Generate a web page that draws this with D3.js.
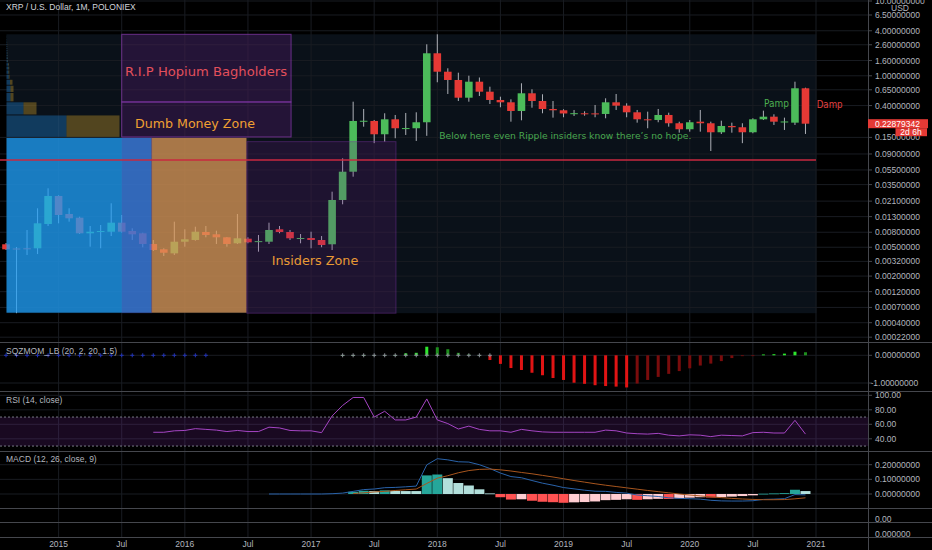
<!DOCTYPE html>
<html>
<head>
<meta charset="utf-8">
<title>XRP / U.S. Dollar, 1M, POLONIEX</title>
<script src="https://cdnjs.cloudflare.com/ajax/libs/d3/7.8.5/d3.min.js"></script>
<style>
  html, body { margin: 0; padding: 0; background: #000; overflow: hidden; }
  svg { display: block; font-family: "Liberation Sans", Arial, sans-serif; }
</style>
</head>
<body>
<div id="mainDiv"></div>
<script>
'use strict';

// monthly bars, first bar is Aug 2014; months are counted from Jan 2015 (= 0)
var firstMonth = -5;

var openPrices = [
  0.00549, 0.00481, 0.00484, 0.00484, 0.01034,
  0.02463, 0.01410, 0.01258, 0.00774, 0.00813, 0.00813, 0.01077, 0.00831, 0.00774, 0.00554, 0.00469, 0.00413,
  0.00595, 0.00628, 0.00806, 0.00750, 0.00683, 0.00566, 0.00654, 0.00590, 0.00595, 0.00877, 0.00806, 0.00662,
  0.00668, 0.00628, 0.00549, 0.02176, 0.0521, 0.2451, 0.2488, 0.1652, 0.2620, 0.1988, 0.1988, 0.2391,
  2.000, 1.134, 0.879, 0.5095, 0.834, 0.613, 0.4749, 0.4421, 0.3385, 0.5834, 0.4604, 0.3600,
  0.3459, 0.3134, 0.3153, 0.3144, 0.3086, 0.4421, 0.3984, 0.3251, 0.2620, 0.2566, 0.2993, 0.2319,
  0.1928, 0.2434, 0.2319, 0.1757, 0.2133, 0.2050, 0.1757, 0.2620, 0.2840, 0.2420, 0.2362, 0.681
];
var highPrices = [
  0.00571, 0.00504, 0.00858, 0.01683, 0.03124,
  0.0252, 0.01683, 0.01297, 0.00971, 0.01002, 0.01965, 0.01367, 0.00904, 0.00789, 0.00628, 0.00484, 0.01111,
  0.00877, 0.00950, 0.00971, 0.00839, 0.0069, 0.01410, 0.00683, 0.00734, 0.01077, 0.00971, 0.00858, 0.00757,
  0.00813, 0.00711, 0.02813, 0.07877, 0.4505, 0.3600, 0.2566, 0.3153, 0.2993, 0.3183, 0.3251, 2.637,
  3.588, 1.260, 1.100, 1.003, 0.949, 0.715, 0.5255, 0.4848, 0.794, 0.660, 0.566, 0.4604,
  0.3567, 0.3491, 0.3353, 0.4071, 0.5001, 0.571, 0.4286, 0.3491, 0.3314, 0.3600, 0.3212, 0.2434,
  0.2566, 0.3491, 0.2434, 0.2509, 0.2362, 0.2319, 0.2702, 0.3417, 0.3057, 0.2756, 0.834, 0.693
];
var lowPrices = [
  0.00459, 0.00057, 0.00392, 0.00404, 0.00971,
  0.01056, 0.01111, 0.00757, 0.00509, 0.00484, 0.00711, 0.00789, 0.00628, 0.00499, 0.00445, 0.00380, 0.00392,
  0.00509, 0.00614, 0.00683, 0.00554, 0.00509, 0.00554, 0.00566, 0.00435, 0.00554, 0.00774, 0.00628, 0.00566,
  0.00484, 0.00500, 0.00459, 0.01904, 0.0447, 0.2088, 0.1256, 0.1317, 0.1461, 0.1617, 0.1345, 0.1575,
  0.819, 0.571, 0.4604, 0.4505, 0.537, 0.4198, 0.3793, 0.2434, 0.2540, 0.3744, 0.3153, 0.2756,
  0.2789, 0.2902, 0.2927, 0.2789, 0.2702, 0.3491, 0.2789, 0.2362, 0.1988, 0.2391, 0.2088, 0.1735,
  0.1790, 0.1790, 0.0986, 0.1668, 0.1735, 0.1256, 0.1703, 0.2566, 0.2200, 0.1886, 0.2200, 0.1668
];
var closePrices = [
  0.00469, 0.00473, 0.00482, 0.01056, 0.02463,
  0.01367, 0.01234, 0.00774, 0.00813, 0.00831, 0.01077, 0.00813, 0.00750, 0.00554, 0.00459, 0.00421, 0.00595,
  0.00642, 0.00813, 0.00734, 0.00683, 0.00554, 0.00662, 0.00584, 0.00606, 0.00858, 0.00806, 0.00662, 0.00668,
  0.00628, 0.00537, 0.02176, 0.05213, 0.2488, 0.2504, 0.1652, 0.2620, 0.1988, 0.2000, 0.2391, 2.000,
  1.134, 0.879, 0.5095, 0.834, 0.613, 0.4749, 0.4421, 0.3385, 0.5834, 0.4604, 0.3600, 0.3459,
  0.3134, 0.3162, 0.3144, 0.3086, 0.4421, 0.3984, 0.3251, 0.2620, 0.2583, 0.2993, 0.2319, 0.1928,
  0.2391, 0.2319, 0.1757, 0.2133, 0.2050, 0.1757, 0.2620, 0.2840, 0.2434, 0.2450, 0.681, 0.22879342
];
var lastPrice = 0.22879342;
var barCountdown = '2d 6h';

// volume profile (visible range), 24 rows, up / down volume
var vpLow = 0.00057;
var vpHigh = 3.588;
var vpUp = [145, 60, 17, 4, 4, 3.5, 2.2, 2, 2, 1.8, 1.2, 1.1, 1, 0.9, 0.8, 0.7, 0.6, 0.6, 0.5, 0.5, 0.4, 0.4, 0.3, 0.3];
var vpDown = [95, 53, 13, 3, 3, 2.5, 0.8, 0.8, 0.7, 0.7, 0.3, 0.3, 0.3, 0.3, 0.2, 0.2, 0.2, 0.2, 0.2, 0.1, 0.1, 0.1, 0.1, 0.1];

// SQZMOM_LB from Apr 2017
var sqzFirstMonth = 27;
var sqzValues = [
  0.004, 0.010, 0.012, 0.010, 0.010, 0.012, 0.07, 0.09, 0.31,
  0.29, 0.22, 0.09, 0.03, 0.005, -0.17, -0.31, -0.46, -0.53, -0.63, -0.72, -0.82,
  -0.89, -0.99, -1.03, -1.08, -1.11, -1.13, -1.16, -1.02, -0.89, -0.78, -0.67, -0.57,
  -0.47, -0.37, -0.30, -0.21, -0.10, -0.03, -0.01, 0.03, 0.04, 0.06, 0.13, 0.11
];
// squeeze dots from Aug 2014: n = no squeeze, k = squeeze on, g = squeeze off
var sqzDotStates = 'nnnnnnnnnnnnnnnnnnnnkkkkkkkkkkkkggggggggggggggg';

// RSI (14) from Oct 2015
var rsiFirstMonth = 9;
var rsiValues = [
  49, 49, 51,
  51.5, 54, 53, 52, 50, 51.5, 50, 50, 56, 55, 51.5, 51,
  51, 48.5, 71.5, 86, 97, 97, 70, 78, 66, 66, 70, 95,
  66, 61, 53.5, 57.5, 53, 51, 51, 49, 53, 51, 49.5, 49,
  49, 49, 49, 49, 52, 51, 48, 47, 46.5, 47.5, 45, 44,
  45.5, 45, 43, 45, 44.5, 44, 48.5, 49, 48, 48, 65.5, 46.5
];

// MACD (12, 26, 9)
var macdFirstMonth = 20;
var macdValues = [
  0, 0, 0, 0,
  0, 0, 0.002, 0.006, 0.018, 0.030, 0.034, 0.043, 0.045, 0.049, 0.054, 0.199,
  0.241, 0.233, 0.220, 0.218, 0.200, 0.174, 0.143, 0.119, 0.111, 0.092, 0.074, 0.060,
  0.044, 0.035, 0.026, 0.019, 0.018, 0.011, 0.006, -0.007, -0.012, -0.017, -0.026, -0.030,
  -0.032, -0.035, -0.043, -0.047, -0.048, -0.048, -0.046, -0.037, -0.035, -0.032, -0.004, -0.006
];
var signalFirstMonth = 28;
var signalValues = [
  0.003, 0.008, 0.014, 0.018, 0.024, 0.029, 0.034, 0.072,
  0.108, 0.125, 0.145, 0.160, 0.168, 0.170, 0.165, 0.157, 0.147, 0.138, 0.127, 0.116,
  0.104, 0.092, 0.081, 0.070, 0.060, 0.051, 0.042, 0.033, 0.024, 0.016, 0.008, 0.000,
  -0.007, -0.013, -0.019, -0.025, -0.030, -0.034, -0.037, -0.039, -0.039, -0.038, -0.033, -0.026
];
var histValues = [
  0.015, 0.022, 0.020, 0.025, 0.021, 0.020, 0.020, 0.127,
  0.133, 0.108, 0.075, 0.058, 0.032, 0.004, -0.022, -0.038, -0.036, -0.046, -0.053, -0.056,
  -0.060, -0.057, -0.055, -0.051, -0.042, -0.040, -0.036, -0.040, -0.036, -0.033, -0.034, -0.030,
  -0.025, -0.022, -0.024, -0.022, -0.018, -0.014, -0.009, 0.002, 0.004, 0.006, 0.029, 0.020
];

// axes
var priceTicks = [10, 6.5, 4, 2.6, 1.6, 1, 0.65, 0.4, 0.15, 0.09, 0.055, 0.035, 0.021, 0.013,
  0.008, 0.005, 0.0032, 0.002, 0.0012, 0.0007, 0.0004, 0.00022];
var sqzTicks = [0, -1];
var rsiTicks = [100, 80, 60, 40];
var rsiBand = [70, 30];
var macdTicks = [0.2, 0.1, 0];
var timeTickMonths = [0, 6, 12, 18, 24, 30, 36, 42, 48, 54, 60, 66, 72];
var timeTickLabels = ['2015', 'Jul', '2016', 'Jul', '2017', 'Jul', '2018', 'Jul', '2019', 'Jul', '2020', 'Jul', '2021'];

// user drawings, anchored in months / prices
var redLevel = 0.0747;
var zoneBoxes = [
  { name: 'rip', m0: 6, m1: 22.1, p0: 0.4465, p1: 3.588 },
  { name: 'dumb', m0: 6, m1: 22.1, p0: 0.152, p1: 0.4465 },
  { name: 'insiders', m0: 17.9, m1: 32.07, p0: 0.00057, p1: 0.1316 },
  { name: 'tint', m0: 6, m1: 8.9, p0: 0.00057, p1: 0.150 }
];
var noteTexts = [
  { text: 'R.I.P Hopium Bagholders', m: 6.31, p: 1.009 },
  { text: 'Dumb Money Zone', m: 7.26, p: 0.1975 },
  { text: 'Insiders Zone', m: 20.26, p: 0.00286 },
  { text: 'Below here even Ripple insiders know there\u2019s no hope.', m: 36.19, p: 0.1450 },
  { text: 'Pamp', m: 67.05, p: 0.3826 },
  { text: 'Damp', m: 72.06, p: 0.3710 }
];

var myChart = {};

myChart.width = 932;
myChart.height = 550;
myChart.axisX = 868;
myChart.panes = [[0, 342], [342, 391], [391, 451], [451, 508], [508, 522], [522, 537]];

myChart.x = d3.scaleLinear().domain([0, 72]).range([58.6, 816]);
myChart.logY = d3.scaleLog().domain([10.0001, 0.00032]).range([1, 337.2]);
myChart.y = function (p) { return myChart.logY(p + 0.0001); };
myChart.sqzY = d3.scaleLinear().domain([0, -1]).range([355.3, 383]);
myChart.rsiY = d3.scaleLinear().domain([100, 40]).range([395.3, 438.8]);
myChart.macdY = d3.scaleLinear().domain([0.2, 0]).range([464.7, 494]);

myChart.colors = {
  up: '#4cbb5a', down: '#e53935', wick: '#aeb1b8',
  grid: '#191c22', sep: '#45474d', text: '#b2b5be'
};

myChart.fmt8 = function (v) { return v.toFixed(8); };

myChart.appendSvg = function (element) {
  var svg = d3.select(element).append('svg')
    .attr('width', myChart.width)
    .attr('height', myChart.height);
  svg.append('rect').attr('width', myChart.width).attr('height', myChart.height).attr('fill', '#000');
  var defs = svg.append('defs');
  myChart.panes.forEach(function (p, i) {
    defs.append('clipPath').attr('id', 'pane' + i).append('rect')
      .attr('x', 0).attr('y', p[0]).attr('width', myChart.axisX).attr('height', p[1] - p[0]);
  });
  return svg;
};

myChart.drawGrid = function (svg) {
  var x = myChart.x, c = myChart.colors;
  var g = svg.append('g');
  g.selectAll('line.v').data(timeTickMonths).enter().append('line')
    .attr('x1', function (d) { return x(d); }).attr('x2', function (d) { return x(d); })
    .attr('y1', 0).attr('y2', 537).attr('stroke', c.grid);
  var hg = svg.append('g').attr('clip-path', 'url(#pane0)');
  hg.selectAll('line').data(priceTicks).enter().append('line')
    .attr('x1', 0).attr('x2', myChart.axisX)
    .attr('y1', function (d) { return myChart.y(d); }).attr('y2', function (d) { return myChart.y(d); })
    .attr('stroke', c.grid);
  var sub = [[sqzTicks, myChart.sqzY], [rsiTicks, myChart.rsiY], [macdTicks, myChart.macdY]];
  sub.forEach(function (s) {
    g.selectAll(null).data(s[0]).enter().append('line')
      .attr('x1', 0).attr('x2', myChart.axisX)
      .attr('y1', function (d) { return s[1](d); }).attr('y2', function (d) { return s[1](d); })
      .attr('stroke', c.grid);
  });
};

myChart.drawMain = function (svg) {
  var x = myChart.x, y = myChart.y, c = myChart.colors;
  var g = svg.append('g').attr('clip-path', 'url(#pane0)');

  var bars = openPrices.map(function (o, i) {
    return { m: firstMonth + i, o: o, h: highPrices[i], l: lowPrices[i], c: closePrices[i] };
  });

  g.selectAll('line.wick').data(bars).enter().append('line')
    .attr('x1', function (d) { return x(d.m); }).attr('x2', function (d) { return x(d.m); })
    .attr('y1', function (d) { return y(d.h); }).attr('y2', function (d) { return y(d.l); })
    .attr('stroke', c.wick).attr('stroke-width', 1);

  g.selectAll('rect.body').data(bars).enter().append('rect')
    .attr('x', function (d) { return x(d.m) - 3.8; })
    .attr('width', 7.6)
    .attr('y', function (d) { return y(Math.max(d.o, d.c)); })
    .attr('height', function (d) { return Math.max(1, y(Math.min(d.o, d.c)) - y(Math.max(d.o, d.c))); })
    .attr('fill', function (d) { return d.c >= d.o ? c.up : c.down; });

  // volume profile
  var rowSize = (vpHigh - vpLow) / vpUp.length;
  var vpX = d3.scaleLinear().domain([0, vpUp[0] + vpDown[0]]).range([0, 240]);
  var vpLeft = x(firstMonth) + 0.5;
  var rows = vpUp.map(function (u, i) {
    return { i: i, up: u, down: vpDown[i], lo: vpLow + rowSize * i, hi: vpLow + rowSize * (i + 1) };
  });
  var rg = g.selectAll('g.row').data(rows).enter().append('g');
  rg.append('rect')
    .attr('x', vpLeft)
    .attr('y', function (d) { return y(d.hi) + 0.5; })
    .attr('width', function (d) { return vpX(d.up); })
    .attr('height', function (d) { return Math.max(0.5, y(d.lo) - y(d.hi) - 1); })
    .attr('fill', function (d) { return d.i === 0 ? 'rgba(31,160,250,0.75)' : 'rgba(33,150,243,0.32)'; });
  rg.append('rect')
    .attr('x', function (d) { return vpLeft + vpX(d.up); })
    .attr('y', function (d) { return y(d.hi) + 0.5; })
    .attr('width', function (d) { return vpX(d.down); })
    .attr('height', function (d) { return Math.max(0.5, y(d.lo) - y(d.hi) - 1); })
    .attr('fill', function (d) { return d.i === 0 ? 'rgba(222,154,88,0.75)' : 'rgba(251,192,45,0.3)'; });

  // drawings
  var boxStyle = {
    rip: ['rgba(120,35,150,0.24)', 'rgba(140,60,180,0.7)'],
    dumb: ['rgba(120,35,150,0.24)', 'rgba(140,60,180,0.7)'],
    insiders: ['rgba(110,30,140,0.2)', 'rgba(120,50,160,0.45)'],
    tint: ['rgba(110,60,170,0.3)', 'none']
  };
  g.selectAll('rect.zone').data(zoneBoxes).enter().append('rect')
    .attr('x', function (d) { return x(d.m0); })
    .attr('y', function (d) { return y(d.p1); })
    .attr('width', function (d) { return x(d.m1) - x(d.m0); })
    .attr('height', function (d) { return y(d.p0) - y(d.p1); })
    .attr('fill', function (d) { return boxStyle[d.name][0]; })
    .attr('stroke', function (d) { return boxStyle[d.name][1]; })
    .attr('stroke-width', 1);

  g.append('line')
    .attr('x1', 0).attr('x2', x(72))
    .attr('y1', y(redLevel)).attr('y2', y(redLevel))
    .attr('stroke', '#c8283f').attr('stroke-width', 1.5);

  var noteStyle = [
    { fill: '#e2505c', size: 13, len: 162 },
    { fill: '#f0a032', size: 13, len: 120 },
    { fill: '#e89a35', size: 12, len: 86.6 },
    { fill: '#49a850', size: 9, len: 252 },
    { fill: '#4caf50', size: 10, len: 25 },
    { fill: '#e04040', size: 10, len: 26 }
  ];
  svg.selectAll('text.note').data(noteTexts).enter().append('text')
    .attr('x', function (d) { return x(d.m); })
    .attr('y', function (d) { return y(d.p); })
    .attr('font-family', '"DejaVu Sans", Verdana, sans-serif')
    .attr('font-size', function (d, i) { return noteStyle[i].size; })
    .attr('fill', function (d, i) { return noteStyle[i].fill; })
    .attr('textLength', function (d, i) { return noteStyle[i].len; })
    .attr('lengthAdjust', 'spacingAndGlyphs')
    .text(function (d) { return d.text; });
};

myChart.drawSqz = function (svg) {
  var x = myChart.x, sy = myChart.sqzY;
  var g = svg.append('g').attr('clip-path', 'url(#pane1)');
  var data = sqzValues.map(function (v, i) {
    return { m: sqzFirstMonth + i, v: v, prev: i > 0 ? sqzValues[i - 1] : 0 };
  });
  g.selectAll('rect').data(data).enter().append('rect')
    .attr('x', function (d) { return x(d.m) - 1.5; })
    .attr('width', 3)
    .attr('y', function (d) { return Math.min(sy(0), sy(d.v)); })
    .attr('height', function (d) { return Math.max(0.8, Math.abs(sy(d.v) - sy(0))); })
    .attr('fill', function (d) {
      if (d.v >= 0) return d.v > d.prev ? '#2ee62e' : '#1e8f1e';
      return d.v < d.prev ? '#e01414' : '#7a0c0c';
    });
  var dots = sqzDotStates.split('').map(function (s, i) { return { m: firstMonth + i, s: s }; })
    .filter(function (d) { return d.s !== 'k'; });
  g.selectAll('path').data(dots).enter().append('path')
    .attr('d', function (d) {
      var cx = x(d.m), cy = sy(0);
      return 'M' + (cx - 2) + ',' + cy + 'H' + (cx + 2) + 'M' + cx + ',' + (cy - 2) + 'V' + (cy + 2);
    })
    .attr('stroke', function (d) { return d.s === 'n' ? '#2335b8' : '#8d9099'; })
    .attr('stroke-width', 1);
};

myChart.drawRsi = function (svg) {
  var x = myChart.x, ry = myChart.rsiY;
  var g = svg.append('g').attr('clip-path', 'url(#pane2)');
  g.append('rect').attr('x', 0).attr('width', myChart.axisX)
    .attr('y', ry(rsiBand[0])).attr('height', ry(rsiBand[1]) - ry(rsiBand[0]))
    .attr('fill', 'rgba(126,45,165,0.2)');
  g.selectAll('line.band').data(rsiBand).enter().append('line')
    .attr('x1', 0).attr('x2', myChart.axisX)
    .attr('y1', function (d) { return ry(d); }).attr('y2', function (d) { return ry(d); })
    .attr('stroke', '#787b86').attr('stroke-dasharray', '2,2');
  var data = rsiValues.map(function (v, i) { return { m: rsiFirstMonth + i, v: v }; });
  var line = d3.line().x(function (d) { return x(d.m); }).y(function (d) { return ry(d.v); });
  g.append('path').datum(data).attr('d', line)
    .attr('fill', 'none').attr('stroke', '#a545c4').attr('stroke-width', 1);
};

myChart.drawMacd = function (svg) {
  var x = myChart.x, my = myChart.macdY;
  var g = svg.append('g').attr('clip-path', 'url(#pane3)');
  var hist = histValues.map(function (v, i) {
    return { m: signalFirstMonth + i, v: v, prev: i > 0 ? histValues[i - 1] : 0 };
  });
  g.selectAll('rect').data(hist).enter().append('rect')
    .attr('x', function (d) { return x(d.m) - 5; })
    .attr('width', 10)
    .attr('y', function (d) { return Math.min(my(0), my(d.v)); })
    .attr('height', function (d) { return Math.max(0.8, Math.abs(my(d.v) - my(0))); })
    .attr('fill', function (d) {
      if (d.v >= 0) return d.v > d.prev ? '#26a69a' : '#b2dfdb';
      return d.v < d.prev ? '#ff5252' : '#ffcdd2';
    });
  var line = d3.line().x(function (d) { return x(d.m); }).y(function (d) { return my(d.v); });
  var macd = macdValues.map(function (v, i) { return { m: macdFirstMonth + i, v: v }; });
  var signal = signalValues.map(function (v, i) { return { m: signalFirstMonth + i, v: v }; });
  g.append('path').datum(macd).attr('d', line)
    .attr('fill', 'none').attr('stroke', '#2a63aa').attr('stroke-width', 1);
  g.append('path').datum(signal).attr('d', line)
    .attr('fill', 'none').attr('stroke', '#a8561e').attr('stroke-width', 1);
};

myChart.drawAxes = function (svg) {
  var c = myChart.colors, ax = myChart.axisX;
  svg.append('rect').attr('x', ax).attr('y', 0).attr('width', myChart.width - ax).attr('height', myChart.height).attr('fill', '#000');

  // pane separators
  svg.selectAll('line.sep').data(myChart.panes.map(function (p) { return p[1]; })).enter().append('line')
    .attr('x1', 0).attr('x2', myChart.width)
    .attr('y1', function (d) { return d + 0.5; }).attr('y2', function (d) { return d + 0.5; })
    .attr('stroke', c.sep);
  svg.append('line').attr('x1', ax + 0.5).attr('x2', ax + 0.5).attr('y1', 0).attr('y2', myChart.height)
    .attr('stroke', c.sep);

  var labels = svg.append('g').attr('font-size', 8.5).attr('fill', c.text);

  svg.select('defs').append('clipPath').attr('id', 'mainAxisClip').append('rect')
    .attr('x', ax).attr('y', 0).attr('width', myChart.width - ax).attr('height', 342);
  var mainAxis = svg.append('g').attr('clip-path', 'url(#mainAxisClip)');
  mainAxis.selectAll('text').data(priceTicks).enter().append('text')
    .attr('x', ax + 7).attr('y', function (d) { return myChart.y(d) + 3; })
    .attr('font-size', 8.5).attr('fill', c.text)
    .text(myChart.fmt8);
  mainAxis.selectAll('line').data(priceTicks).enter().append('line')
    .attr('x1', ax).attr('x2', ax + 4)
    .attr('y1', function (d) { return myChart.y(d); }).attr('y2', function (d) { return myChart.y(d); })
    .attr('stroke', c.sep);
  labels.append('text').attr('x', 900).attr('y', 10.5).attr('text-anchor', 'middle').text('USD');

  var subAxes = [
    [sqzTicks, myChart.sqzY, myChart.fmt8],
    [rsiTicks, myChart.rsiY, function (v) { return v.toFixed(2); }],
    [macdTicks, myChart.macdY, myChart.fmt8]
  ];
  subAxes.forEach(function (s) {
    labels.selectAll(null).data(s[0]).enter().append('text')
      .attr('x', function (d) { return d < 0 ? ax + 2.5 : ax + 7; })
      .attr('y', function (d) { return s[1](d) + 3; })
      .text(s[2]);
    svg.selectAll(null).data(s[0]).enter().append('line')
      .attr('x1', ax).attr('x2', ax + 4)
      .attr('y1', function (d) { return s[1](d); }).attr('y2', function (d) { return s[1](d); })
      .attr('stroke', c.sep);
  });
  labels.append('text').attr('x', ax + 7).attr('y', 522).text('0.00');
  labels.append('text').attr('x', ax + 7).attr('y', 536.5).text('0.000000');

  // time axis
  labels.selectAll('text.t').data(timeTickMonths).enter().append('text')
    .attr('x', function (d) { return myChart.x(d); })
    .attr('y', 546.8)
    .attr('text-anchor', 'middle')
    .text(function (d, i) { return timeTickLabels[i]; });

  // titles
  var t = svg.append('g').attr('font-size', 8.5);
  t.append('text').attr('x', 6).attr('y', 10.3).attr('fill', '#d1d4dc').text('XRP / U.S. Dollar, 1M, POLONIEX');
  t.append('text').attr('x', 6).attr('y', 353.5).attr('fill', c.text).text('SQZMOM_LB (20, 2, 20, 1.5)');
  t.append('text').attr('x', 6).attr('y', 402.5).attr('fill', c.text).text('RSI (14, close)');
  t.append('text').attr('x', 6).attr('y', 462).attr('fill', c.text).text('MACD (12, 26, close, 9)');

  // last price tag
  var py = myChart.y(lastPrice);
  svg.append('rect').attr('x', ax).attr('y', py - 4.5).attr('width', 60).attr('height', 9).attr('fill', '#e53935');
  svg.append('text').attr('x', ax + 7).attr('y', py + 3).attr('font-size', 8.5).attr('fill', '#fff')
    .text(myChart.fmt8(lastPrice));
  svg.append('rect').attr('x', 895.5).attr('y', py + 4.5).attr('width', 31.5).attr('height', 8).attr('fill', '#e53935');
  svg.append('text').attr('x', 911).attr('y', py + 11.3).attr('text-anchor', 'middle')
    .attr('font-size', 8.5).attr('fill', '#fff').text(barCountdown);
};

myChart.run = function () {
  var svg = myChart.appendSvg('#mainDiv');
  var x = myChart.x, y = myChart.y;
  // volume profile range background
  svg.append('rect')
    .attr('x', x(firstMonth) + 0.5).attr('y', y(vpHigh))
    .attr('width', x(72) - x(firstMonth)).attr('height', y(vpLow) - y(vpHigh))
    .attr('fill', '#0a1119');
  myChart.drawGrid(svg);
  myChart.drawMain(svg);
  myChart.drawSqz(svg);
  myChart.drawRsi(svg);
  myChart.drawMacd(svg);
  myChart.drawAxes(svg);
};

window.onload = myChart.run;
</script>
</body>
</html>
